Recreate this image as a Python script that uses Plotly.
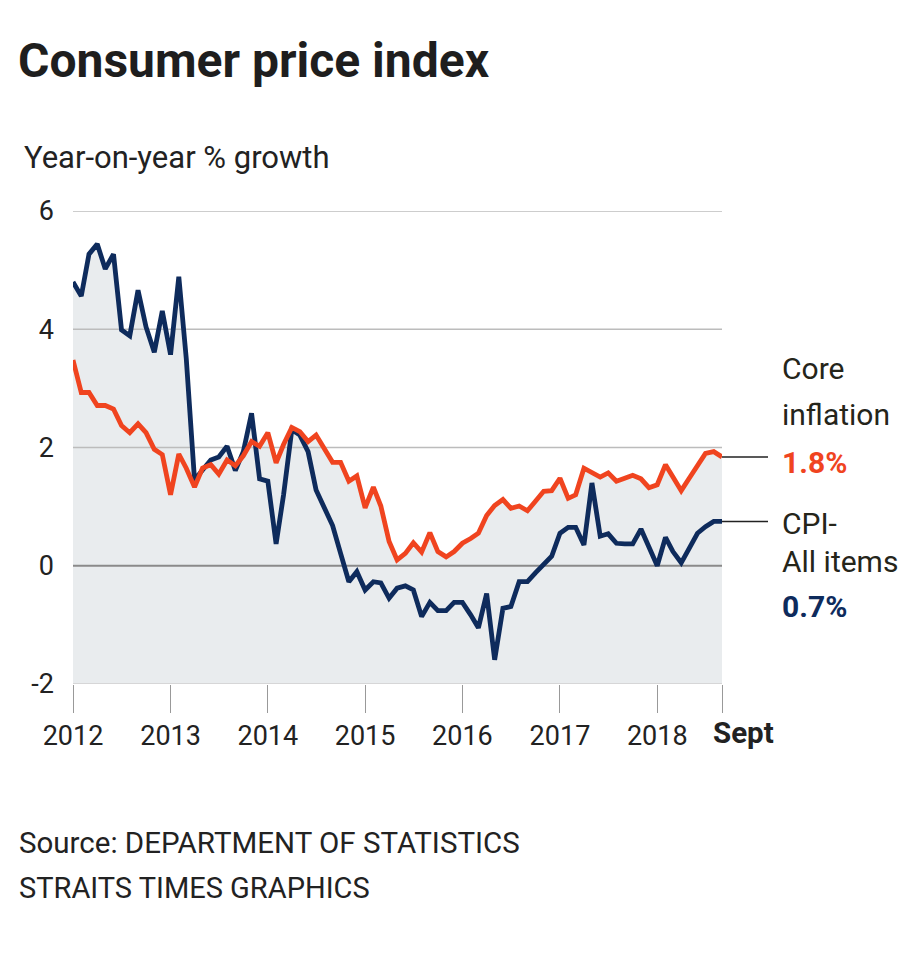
import pandas as pd
import plotly.graph_objects as go

# ---- data (monthly, Jan 2012 .. Sept 2018) ----
start_month = "2012-01-01"
cpi_all_items = [
    4.80, 4.56, 5.27, 5.44, 5.02, 5.27, 3.99, 3.89, 4.66, 4.04, 3.61, 4.31,
    3.57, 4.89, 3.50, 1.45, 1.62, 1.79, 1.84, 2.02, 1.61, 1.93, 2.58, 1.47,
    1.43, 0.37, 1.20, 2.30, 2.21, 1.93, 1.28, 1.00, 0.68, 0.21, -0.27, -0.10,
    -0.41, -0.27, -0.29, -0.55, -0.38, -0.34, -0.41, -0.86, -0.62, -0.76, -0.76, -0.62,
    -0.62, -0.83, -1.05, -0.47, -1.59, -0.72, -0.69, -0.27, -0.27, -0.12, 0.02, 0.16,
    0.55, 0.65, 0.65, 0.35, 1.40, 0.50, 0.54, 0.38, 0.37, 0.37, 0.62, 0.33,
    0.00, 0.48, 0.24, 0.05, 0.30, 0.55, 0.66, 0.75, 0.75,
]
core_inflation = [
    3.48, 2.93, 2.93, 2.71, 2.71, 2.65, 2.37, 2.25, 2.40, 2.25, 1.97, 1.88,
    1.20, 1.89, 1.65, 1.33, 1.65, 1.71, 1.55, 1.79, 1.69, 1.86, 2.10, 2.02,
    2.25, 1.74, 2.05, 2.34, 2.27, 2.10, 2.21, 1.96, 1.75, 1.75, 1.43, 1.52,
    0.98, 1.33, 1.01, 0.41, 0.10, 0.21, 0.39, 0.23, 0.56, 0.24, 0.15, 0.24,
    0.38, 0.46, 0.55, 0.85, 1.02, 1.12, 0.97, 1.01, 0.93, 1.09, 1.26, 1.27,
    1.48, 1.14, 1.20, 1.65, 1.58, 1.50, 1.57, 1.43, 1.48, 1.53, 1.47, 1.32,
    1.37, 1.71, 1.50, 1.27, 1.48, 1.71, 1.90, 1.93, 1.84,
]
year_ticks = ["2012", "2013", "2014", "2015", "2016", "2017", "2018"]
y_ticks = [-2, 0, 2, 4, 6]
grid_levels = [2, 4, 6]

dates = pd.date_range(start_month, periods=len(cpi_all_items), freq="MS")
x = [d.strftime("%Y-%m-%d") for d in dates]
envelope = [max(a, b) for a, b in zip(cpi_all_items, core_inflation)]

NAVY = "#0e2b5c"
ORANGE = "#f0441f"
FILL = "#e9ecee"
TXT = "#222222"
LABEL = "#25251a"
FONT = "Roboto, 'Open Sans', sans-serif"

# page offset (body margin of the html page)
OFF = 8
W, H = 920 - OFF, 960 - OFF
PL, PR, PT, PB = 73 - OFF, 722 - OFF, 211 - OFF, 684 - OFF

fig = go.Figure()
fig.add_trace(go.Scatter(x=x, y=[y_ticks[0]] * len(x), mode="lines",
                         line=dict(width=0), hoverinfo="skip"))
fig.add_trace(go.Scatter(x=x, y=envelope, mode="lines", line=dict(width=0),
                         fill="tonexty", fillcolor=FILL, hoverinfo="skip"))
for g in grid_levels:
    fig.add_trace(go.Scatter(x=[x[0], x[-1]], y=[g, g], mode="lines",
                             line=dict(color="#bcbcbc", width=1.5), hoverinfo="skip"))
fig.add_trace(go.Scatter(x=[x[0], x[-1]], y=[0, 0], mode="lines",
                         line=dict(color="#8a8a8a", width=2.2), hoverinfo="skip"))
fig.add_trace(go.Scatter(x=[x[0], x[-1]], y=[y_ticks[0], y_ticks[0]], mode="lines",
                         line=dict(color="#cfcfcf", width=1.5), hoverinfo="skip"))
fig.add_trace(go.Scatter(x=x, y=cpi_all_items, mode="lines", name="CPI-All items",
                         line=dict(color=NAVY, width=4.8), cliponaxis=False))
fig.add_trace(go.Scatter(x=x, y=core_inflation, mode="lines", name="Core inflation",
                         line=dict(color=ORANGE, width=4.8), cliponaxis=False))

tickvals = [f"{y}-01-01" for y in year_ticks] + [x[-1]]
ticktext = year_ticks + [""]

fig.update_layout(
    width=W, height=H,
    margin=dict(l=PL, r=W - PR, t=PT, b=H - PB),
    plot_bgcolor="white", paper_bgcolor="white",
    showlegend=False,
    font=dict(family=FONT, color=TXT, size=27),
    title=dict(text="<b>Consumer price index</b>", x=(18 - OFF) / W, xanchor="left",
               y=1 - (60 - OFF) / H, yanchor="middle",
               font=dict(family=FONT, size=48, color="#1e1e1e")),
)
fig.update_xaxes(range=[x[0], x[-1]], tickvals=tickvals, ticktext=ticktext,
                 ticks="outside", ticklen=28, tickcolor="#999999", tickwidth=1,
                 showgrid=False, zeroline=False, showline=False,
                 tickfont=dict(size=27, color=TXT))
fig.update_yaxes(range=[y_ticks[0], y_ticks[-1]], tickvals=y_ticks,
                 ticktext=[str(v) for v in y_ticks], ticks="",
                 showgrid=False, zeroline=False, showline=False,
                 ticklabelstandoff=18, tickfont=dict(size=27, color=TXT))

def py_(py):  # page pixel -> paper y
    return ((PB + OFF) - py) / (PB - PT)

def px_(px):  # page pixel -> paper x
    return (px - (PL + OFF)) / (PR - PL)

annos = [
    dict(text="Year-on-year % growth", x=px_(22), y=py_(157), font=dict(size=31, color=TXT)),
    dict(text="Source: DEPARTMENT OF STATISTICS", x=px_(17), y=py_(843), font=dict(size=29.5, color=TXT)),
    dict(text="STRAITS TIMES GRAPHICS", x=px_(17), y=py_(888), font=dict(size=29, color=TXT)),
    dict(text="Core", x=px_(780), y=py_(368), font=dict(size=30, color=LABEL)),
    dict(text="inflation", x=px_(780), y=py_(414), font=dict(size=30, color=LABEL)),
    dict(text="<b>1.8%</b>", x=px_(780), y=py_(462), font=dict(size=30, color=ORANGE)),
    dict(text="CPI-", x=px_(780), y=py_(523), font=dict(size=30, color=LABEL)),
    dict(text="All items", x=px_(780), y=py_(561), font=dict(size=30, color=LABEL)),
    dict(text="<b>0.7%</b>", x=px_(780), y=py_(606), font=dict(size=30, color=NAVY)),
]
for a in annos:
    fig.add_annotation(xref="paper", yref="paper", xanchor="left", yanchor="middle",
                       showarrow=False, **a)
fig.add_annotation(xref="x", yref="paper", x=x[-1], y=py_(733),
                   xanchor="left", yanchor="middle", xshift=-11, showarrow=False,
                   text="<b>Sept</b>", font=dict(size=29.5, color=TXT))

for val in (core_inflation[-1], cpi_all_items[-1]):
    fig.add_shape(type="line", xref="paper", yref="y", x0=1.0, x1=px_(768),
                  y0=val, y1=val, line=dict(color="#222222", width=1.5))

fig.write_html("out.html")
